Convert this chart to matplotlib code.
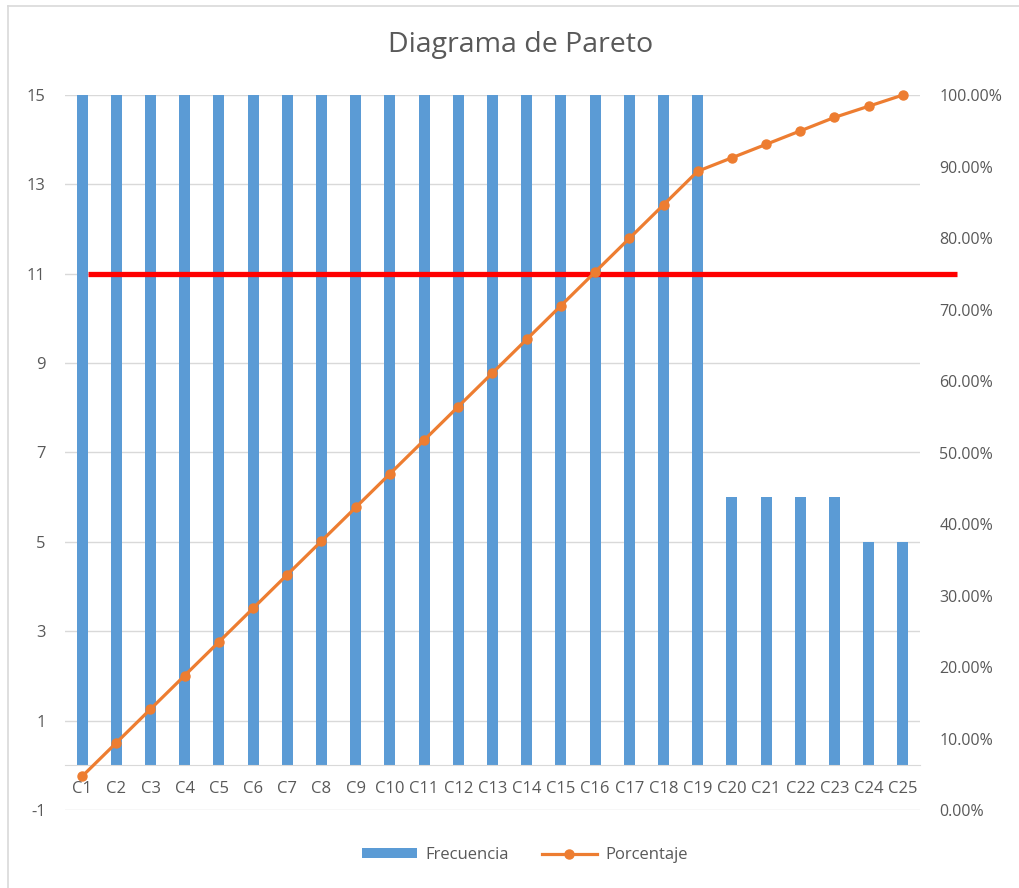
# Pareto chart: frequency bars per category with the cumulative percentage
# on a secondary axis and a red cut-off line at 11.

import matplotlib
matplotlib.use("Agg")

import matplotlib.pyplot as plt
from matplotlib.lines import Line2D
from matplotlib.patches import Patch
from matplotlib.ticker import FuncFormatter

categories = [f"C{i}" for i in range(1, 26)]
frecuencia = [15] * 19 + [6, 6, 6, 6, 5, 5]
porcentaje = [
    4.70, 9.40, 14.11, 18.81, 23.51, 28.21, 32.92, 37.62, 42.32, 47.02,
    51.72, 56.43, 61.13, 65.83, 70.53, 75.24, 79.94, 84.64, 89.34, 91.22,
    93.10, 94.98, 96.87, 98.43, 100.00,
]
corte = 11

BLUE = "#5B9BD5"
ORANGE = "#ED7D31"
GRID = "#D9D9D9"
TEXT = "#595959"

plt.rcParams["font.family"] = ["Open Sans", "DejaVu Sans"]
plt.rcParams["axes.unicode_minus"] = False

fig = plt.figure(figsize=(10.19, 8.88), dpi=100)
ax = fig.add_axes([65 / 1019, 78 / 888, 855 / 1019, 715 / 888])
x = list(range(len(categories)))

ax.bar(x, frecuencia, width=0.32, color=BLUE, zorder=2)
ax.set_xlim(-0.5, len(categories) - 0.5)
ax.set_ylim(-1, 15)
ax.set_yticks(range(-1, 16, 2))
ax.grid(axis="y", color=GRID, lw=1, zorder=0)
ax.set_axisbelow(True)
for s in ("top", "right", "left"):
    ax.spines[s].set_visible(False)
ax.spines["bottom"].set_position(("data", 0))
ax.spines["bottom"].set_color(GRID)
ax.set_xticks(x)
ax.set_xticklabels(categories)
ax.tick_params(axis="x", length=0, pad=11, labelsize=12, labelcolor=TEXT)
ax.tick_params(axis="y", length=0, pad=14, labelsize=12, labelcolor=TEXT)

# cut-off line, runs a bit past the plot area
ax.plot([0.17, 25.58], [corte, corte], color="#FF0000", lw=3.8,
        clip_on=False, zorder=3, solid_capstyle="butt")

ax2 = ax.twinx()
ax2.plot(x, [p / 100 for p in porcentaje], color=ORANGE, lw=2.3,
         marker="o", ms=6.5, clip_on=False)
ax2.set_ylim(0, 1)
ax2.set_yticks([i / 10 for i in range(11)])
ax2.yaxis.set_major_formatter(FuncFormatter(lambda v, _: f"{v * 100:.2f}%"))
ax2.tick_params(axis="y", length=0, pad=14, labelsize=11.5, labelcolor=TEXT)
for s in ax2.spines.values():
    s.set_visible(False)

fig.text(0.511, 1 - 45 / 888, "Diagrama de Pareto", ha="center", va="center",
         fontsize=20.5, color=TEXT)

handles = [
    Patch(facecolor=BLUE, edgecolor="none"),
    Line2D([], [], color=ORANGE, lw=2.3, marker="o", ms=6.5),
]
fig.legend(handles, ["Frecuencia", "Porcentaje"], loc="center",
           bbox_to_anchor=(0.515, 1 - 855 / 888), ncol=2, frameon=False,
           fontsize=12, labelcolor=TEXT, handlelength=3.3, handleheight=0.55,
           handletextpad=0.5, columnspacing=2.0)

# chart frame (left and top edges visible)
fig.add_artist(Line2D([8 / 1019, 8 / 1019], [0, 1 - 6 / 888], color=GRID,
                      lw=1.2, transform=fig.transFigure))
fig.add_artist(Line2D([8 / 1019, 1], [1 - 6 / 888, 1 - 6 / 888], color=GRID,
                      lw=1.2, transform=fig.transFigure))

fig.savefig("out.png", dpi=100)
